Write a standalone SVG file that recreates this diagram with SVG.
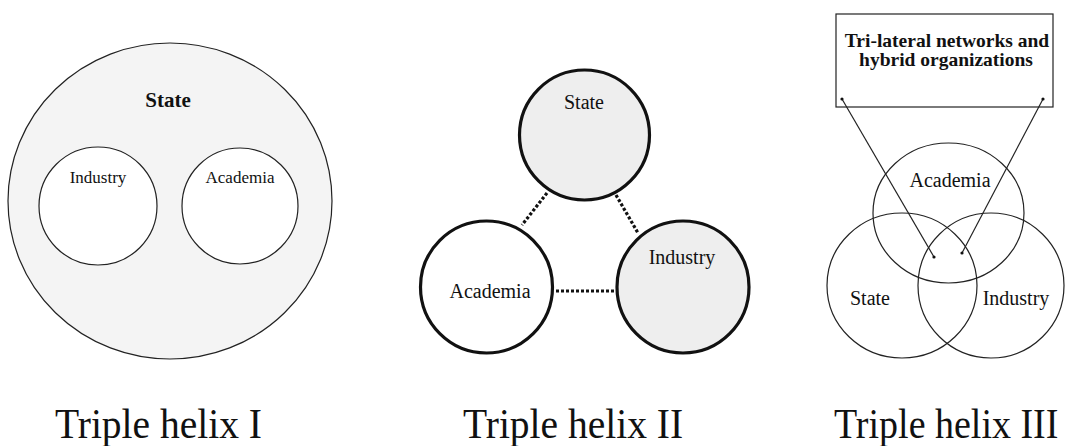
<svg xmlns="http://www.w3.org/2000/svg" width="1065" height="446" viewBox="0 0 1065 446">
<style>
text{font-family:"Liberation Serif","Times New Roman",serif;fill:#111;}
.thin{stroke:#222;stroke-width:1.2;}
.thick{stroke:#111;stroke-width:3.2;}
.gray{fill:#eeeeee;}
.gray1{fill:#f4f4f4;}
.white{fill:#fff;}
.dot{stroke:#111;stroke-width:3.2;stroke-dasharray:3 2;fill:none;}
.lbl{font-size:17px;text-anchor:middle;}
.lbl2{font-size:20px;text-anchor:middle;}
.title{font-size:38px;text-anchor:start;}
</style>
<defs>
<marker id="dotm" viewBox="0 0 4 4" refX="2" refY="2" markerWidth="4" markerHeight="4" markerUnits="userSpaceOnUse"><circle cx="2" cy="2" r="1.6" fill="#111"/></marker>
</defs>
<rect width="1065" height="446" fill="#fff"/>

<!-- Triple helix I -->
<g id="h1-state"><ellipse cx="170" cy="201" rx="162" ry="158" class="thin gray1"/><text x="168" y="107" font-size="21" font-weight="bold" text-anchor="middle">State</text></g>
<g id="h1-industry"><circle cx="98" cy="206" r="59" class="thin white"/><text x="98" y="183" class="lbl">Industry</text></g>
<g id="h1-academia"><circle cx="240" cy="206" r="58" class="thin white"/><text x="240" y="183" class="lbl">Academia</text></g>

<!-- Triple helix II -->
<g id="connectors-h2">
<line x1="547" y1="193" x2="522" y2="225" class="dot"/>
<line x1="616" y1="195" x2="638" y2="233" class="dot"/>
<line x1="556" y1="291" x2="614" y2="291" class="dot"/>
</g>
<g id="h2-state"><circle cx="584.5" cy="135" r="65" class="thick gray"/><text x="584" y="109" class="lbl2">State</text></g>
<g id="h2-academia"><circle cx="486.5" cy="287" r="66" class="thick white"/><text x="490" y="298" class="lbl2">Academia</text></g>
<g id="h2-industry"><circle cx="683" cy="287" r="66" class="thick gray"/><text x="682" y="264" class="lbl2">Industry</text></g>

<!-- Triple helix III -->
<g id="h3-box"><rect x="836" y="14" width="217" height="93" class="thin white"/>
<text x="947" y="47" font-size="19.5" font-weight="bold" text-anchor="middle">Tri-lateral networks and</text>
<text x="946" y="66" font-size="19.5" font-weight="bold" text-anchor="middle">hybrid organizations</text></g>
<g id="h3-academia"><ellipse cx="948.5" cy="213" rx="75.5" ry="70" class="thin" fill="none"/><text x="950" y="187" class="lbl2">Academia</text></g>
<g id="h3-state"><ellipse cx="902" cy="285.5" rx="75" ry="72.5" class="thin" fill="none"/><text x="870" y="305" class="lbl2">State</text></g>
<g id="h3-industry"><ellipse cx="991" cy="285.5" rx="73" ry="72.5" class="thin" fill="none"/><text x="1016" y="305" class="lbl2">Industry</text></g>
<g id="connectors-h3">
<line x1="842" y1="99" x2="934" y2="257" class="thin" stroke-width="1" marker-start="url(#dotm)" marker-end="url(#dotm)"/>
<line x1="1043" y1="99" x2="962" y2="253" class="thin" stroke-width="1" marker-start="url(#dotm)" marker-end="url(#dotm)"/>
</g>

<!-- Titles -->
<text transform="translate(55,438) scale(1.04,1.1)" class="title">Triple helix I</text>
<text transform="translate(463,438) scale(1.04,1.1)" class="title">Triple helix II</text>
<text transform="translate(834,438) scale(1,1.1)" class="title">Triple helix III</text>
</svg>
